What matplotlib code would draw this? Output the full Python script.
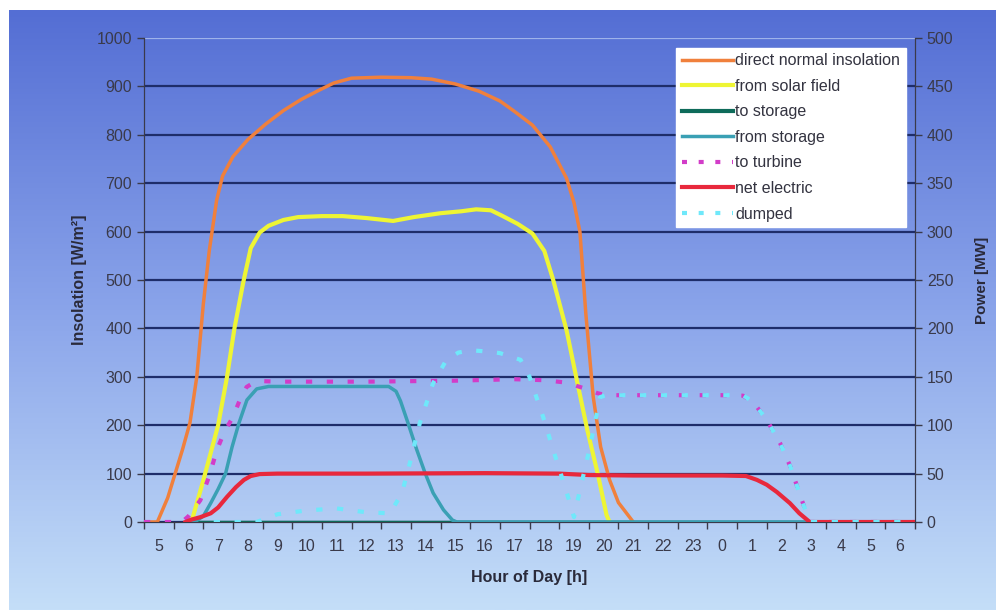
import numpy as np
import matplotlib.pyplot as plt
from matplotlib.lines import Line2D

plt.rcParams['font.family'] = ['Liberation Sans', 'DejaVu Sans']

# hours of day, continuing past midnight (24 -> 0, 30 -> 6)
hour_ticks = list(range(5, 31))
hour_labels = [str(h % 24) for h in hour_ticks]

# direct normal insolation [W/m2]
dni_t = [4.5, 4.95, 5.3, 5.55, 5.8, 6.05, 6.28, 6.5, 6.7, 6.95, 7.15, 7.5, 8.0, 8.6, 9.2,
         9.8, 10.4, 10.9, 11.5, 12.5, 13.5, 14.2, 15.0, 15.8, 16.5, 17.0, 17.6, 18.2,
         18.75, 19.0, 19.2, 19.4, 19.65, 19.9, 20.2, 20.5, 21.0]
dni_v = [0, 0, 50, 100, 150, 205, 300, 450, 560, 665, 715, 755, 790, 822, 850,
         873, 892, 907, 917, 919, 918, 915, 905, 890, 870, 848, 820, 775,
         710, 660, 600, 430, 258, 155, 87, 40, 0]

# power series [MW]
solar_t = [6.1, 6.5, 7.0, 7.3, 7.55, 7.85, 8.1, 8.4, 8.7, 9.2, 9.7, 10.5, 11.2, 12.0,
           12.9, 13.6, 14.5, 15.2, 15.7, 16.2, 16.6, 17.1, 17.6, 18.0, 18.3, 18.75,
           19.1, 19.45, 19.8, 20.1, 20.2]
solar_v = [0, 43, 100, 150, 200, 248, 283, 299, 306, 312, 315, 316, 316, 314,
           311, 315, 319, 321, 323, 322, 316, 308, 298, 280, 250, 198,
           146, 95, 50, 7, 0]

to_storage_t = [6.0, 30.5]
to_storage_v = [0, 0]

from_storage_t = [6.0, 6.2, 6.5, 6.75, 7.0, 7.25, 7.47, 7.7, 7.97, 8.3, 8.7, 9.5, 12.0,
                  12.75, 13.0, 13.15, 13.4, 13.7, 13.98, 14.25, 14.6, 14.9, 15.05, 30.5]
from_storage_v = [0, 0, 6, 19.5, 34, 50, 77.5, 102, 126, 137.5, 140, 140, 140,
                  140, 135, 125, 102.5, 74.5, 50.5, 30, 12.5, 2, 0, 0]

turbine_t = [4.5, 5.78, 6.0, 6.4, 6.7, 6.96, 7.2, 7.5, 7.75, 7.96, 8.2, 8.5, 9.0, 12.0,
             15.0, 17.0, 18.0, 18.6, 19.0, 19.5, 19.8, 20.1, 21.0, 24.0, 24.7, 25.04,
             25.5, 25.95, 26.3, 26.6, 26.8, 26.95, 30.5]
turbine_v = [0, 0, 6, 22.5, 47.5, 74.5, 92.5, 108.5, 127.5, 139.5, 144, 145.5, 145, 145,
             146, 147.5, 146.5, 144.5, 141.5, 136.5, 133, 131, 131, 131, 130.5, 124,
             105.5, 81.5, 57, 30, 12.5, 0, 0]

net_t = [5.9, 6.1, 6.4, 6.75, 7.0, 7.3, 7.6, 7.87, 8.1, 8.4, 9.0, 12.0, 16.0, 18.5,
         19.5, 21.0, 24.0, 24.8, 25.17, 25.5, 25.84, 26.28, 26.6, 26.95, 30.5]
net_v = [0, 2.5, 5, 9, 15, 26, 36, 43.5, 47.5, 49.5, 50, 50, 50.5, 50,
         48.5, 48, 48, 47.5, 43.5, 38.5, 31, 19.5, 9, 0, 0]

dumped_t = [6.5, 8.3, 9.0, 10.0, 11.0, 12.0, 12.8, 13.2, 13.5, 13.8, 14.25, 14.7, 15.1,
            15.5, 15.9, 16.5, 17.2, 17.5, 17.96, 18.3, 18.76, 19.0, 19.2, 19.54, 19.88,
            20.1, 24.7, 25.04, 25.5, 25.95, 26.3, 26.6, 26.8, 26.95, 30.5]
dumped_v = [0, 0, 8, 12, 14, 10, 9, 30, 65, 102, 143.5, 167.5, 175,
            177.5, 176.5, 174.5, 167.5, 150, 108.5, 74.5, 30, 5, 33, 77.5, 129,
            131, 131, 124, 105.5, 81.5, 57, 30, 12.5, 0, 0]

fig = plt.figure(figsize=(9.96, 6.10), dpi=100)

# blue gradient background
bg = fig.add_axes([9 / 996, 0, 1 - 9 / 996, 600 / 610], zorder=-10)
ys = np.linspace(0, 1, 256)
top = np.array([84, 110, 212]) / 255
mid = np.array([138, 164, 234]) / 255
bot = np.array([196, 222, 248]) / 255
grad = np.where(ys[:, None] < 0.5,
                top + (mid - top) * (ys[:, None] / 0.5),
                mid + (bot - mid) * ((ys[:, None] - 0.5) / 0.5))
bg.imshow(grad[:, None, :], aspect='auto', extent=[0, 1, 0, 1], origin='upper')
bg.axis('off')

ax = fig.add_axes([144 / 996, 1 - 522 / 610, 771 / 996, 484 / 610])
ax.patch.set_alpha(0)
ax2 = ax.twinx()
ax2.patch.set_alpha(0)

ax.set_xlim(4.5, 30.5)
ax.set_ylim(0, 1000)
ax2.set_ylim(0, 500)

ax.set_yticks(np.arange(0, 1001, 100))
ax2.set_yticks(np.arange(0, 501, 50))
ax.yaxis.grid(True, color='#1e2d6a', lw=1.6)
ax.get_ygridlines()[-1].set_color('#9fb3ea')
ax.set_axisbelow(True)

ax.set_xticks(hour_ticks)
ax.set_xticklabels(hour_labels)
ax.set_xticks(np.arange(4.5, 30.6, 1), minor=True)
ax.tick_params(axis='x', which='major', length=0, pad=12, labelsize=11.5, labelcolor='#3a3a4a')
ax.tick_params(axis='x', which='minor', length=5, width=1, color='#3a3a4a')
ax.tick_params(axis='y', length=5, width=1, color='#3a3a4a', labelsize=11.5, labelcolor='#3a3a4a')
ax2.tick_params(axis='y', length=5, width=1, color='#3a3a4a', labelsize=11.5, labelcolor='#3a3a4a')

for a in (ax, ax2):
    a.spines['top'].set_visible(False)
    for s in ('left', 'right', 'bottom'):
        a.spines[s].set_color('#3a3a4a')

ax.set_xlabel('Hour of Day [h]', fontsize=11.5, fontweight='bold', color='#2a2a3a')
ax.xaxis.set_label_coords(0.5, -0.10)
ax.set_ylabel('Insolation [W/m²]', fontsize=11.5, fontweight='bold', color='#2a2a3a')
ax.yaxis.set_label_coords(-0.074, 0.5)
ax2.set_ylabel('Power [MW]', fontsize=11, fontweight='bold', color='#2a2a3a', rotation=90)
ax2.yaxis.set_label_coords(1.078, 0.5)

c_dni = '#f0803c'
c_solar = '#eef534'
c_to = '#0e6b5a'
c_from = '#3aa0b4'
c_turb = '#d23cc8'
c_net = '#e8283c'
c_dump = '#6fe8fa'
dots = (0, (1.5, 3.5))

ax.plot(dni_t, dni_v, color=c_dni, lw=2.5, zorder=3)
ax2.plot(solar_t, solar_v, color=c_solar, lw=3, zorder=3)
ax2.plot(to_storage_t, to_storage_v, color=c_to, lw=2.5, zorder=3)
ax2.plot(from_storage_t, from_storage_v, color=c_from, lw=2.5, zorder=3)
ax2.plot(turbine_t, turbine_v, color=c_turb, lw=3, linestyle=dots, zorder=3)
ax2.plot(net_t, net_v, color=c_net, lw=3, zorder=3)
ax2.plot(dumped_t, dumped_v, color=c_dump, lw=3, linestyle=(2.5, (1.5, 3.5)), zorder=3)

handles = [
    Line2D([], [], color=c_dni, lw=2.5),
    Line2D([], [], color=c_solar, lw=3),
    Line2D([], [], color=c_to, lw=3),
    Line2D([], [], color=c_from, lw=2.5),
    Line2D([], [], color=c_turb, lw=3, linestyle=(0, (1.2, 2.8))),
    Line2D([], [], color=c_net, lw=3),
    Line2D([], [], color=c_dump, lw=3, linestyle=(0, (1.2, 2.8))),
]
labels = ['direct normal insolation', 'from solar field', 'to storage', 'from storage',
          'to turbine', 'net electric', 'dumped']
leg = ax2.legend(handles, labels, loc='upper right', bbox_to_anchor=(0.988, 0.98),
                 fontsize=11.5, frameon=True, fancybox=False, framealpha=1,
                 edgecolor='white', facecolor='white', handlelength=3.2,
                 handletextpad=0.15, labelspacing=0.66, borderpad=0.35,
                 borderaxespad=0)
for t in leg.get_texts():
    t.set_color('#333340')

fig.savefig('out.png', dpi=100)
